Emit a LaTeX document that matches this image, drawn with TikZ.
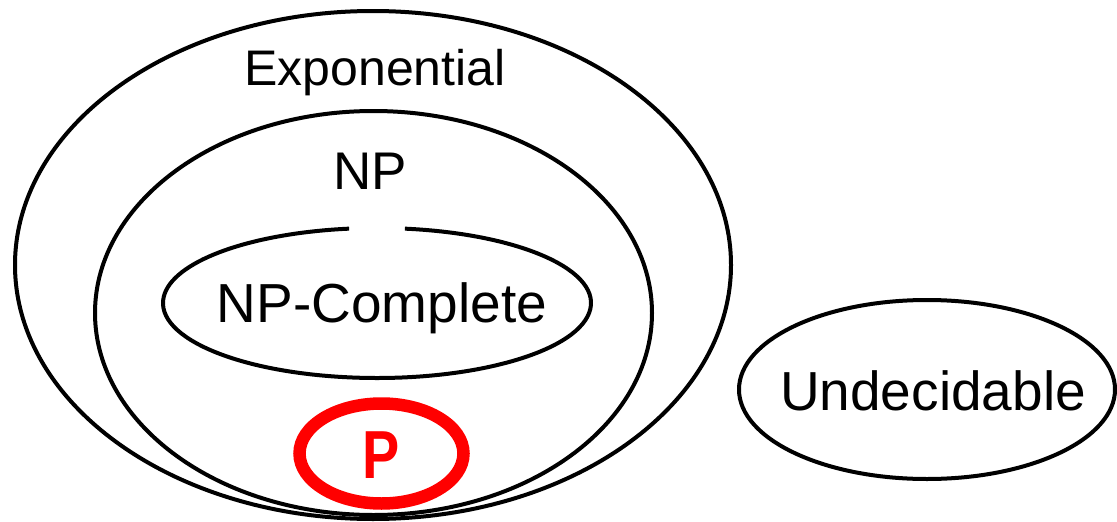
\documentclass[tikz,border=0pt]{standalone}
\usepackage{fontspec}
\setmainfont{Liberation Sans}
\definecolor{pred}{RGB}{255,0,0}
\begin{document}
\begin{tikzpicture}[x=1pt,y=-1pt,
  setline/.style={line width=4pt, draw=black},
  setname/.style={anchor=base, inner sep=0pt, font=\fontsize{55}{60}\selectfont}]
\useasboundingbox (0,0) rectangle (1117,522);

% complexity classes as nested sets
\draw[setline] (373,265) ellipse [x radius=358, y radius=254];      % Exponential
\draw[setline] (373.5,313) ellipse [x radius=278.5, y radius=202];  % NP
% NP-Complete, open at the top
\draw[setline] (377,303) ++(277.5:214 and 75)
  arc[start angle=277.5, end angle=622.5, x radius=214, y radius=75];
\draw[setline] (927,389.5) ellipse [x radius=188, y radius=89.5];   % Undecidable
\draw[line width=12.5pt, draw=pred] (381.5,453.5) ellipse [x radius=82, y radius=50]; % P

% set names
\node[setname, font=\fontsize{50}{55}\selectfont] (expo) at (375,85) {Exponential};
\node[setname, font=\fontsize{53}{58}\selectfont] (np) at (370,189) {NP};
\node[setname] (npc) at (382,322) {NP-Complete};
\node[setname] (undec) at (933,410) {Undecidable};
\node[setname, text=pred, font=\fontsize{68}{72}\selectfont\bfseries] (p) at (381.5,478) {\scalebox{0.82}[1]{P}};
\end{tikzpicture}
\end{document}
